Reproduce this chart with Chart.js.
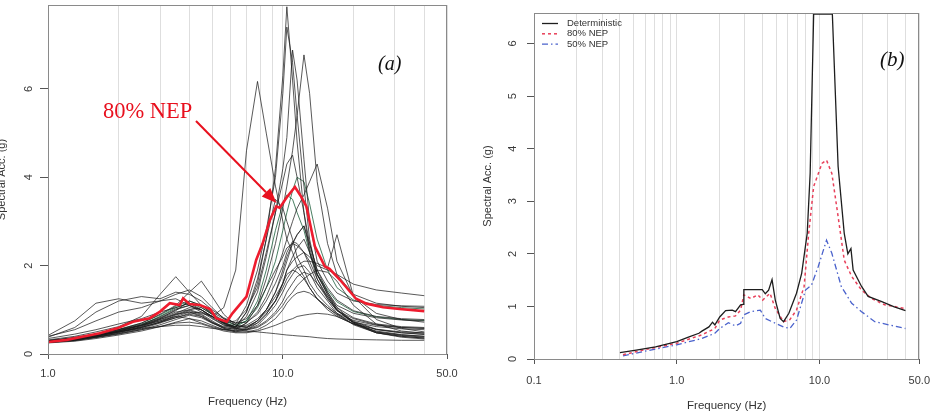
<!DOCTYPE html>
<html>
<head>
<meta charset="utf-8">
<script src="https://cdn.jsdelivr.net/npm/chart.js@4.4.1/dist/chart.umd.min.js"></script>
<style>
  html, body { margin: 0; padding: 0; background: #fff; }
  #wrap { display: flex; width: 940px; height: 414px; }
  canvas { display: block; }
</style>
</head>
<body>
<div id="wrap">
  <canvas id="chartA" width="470" height="414"></canvas>
  <canvas id="chartB" width="470" height="414"></canvas>
</div>
<script>
// ---- panel (a): individual records + 80% NEP ----
const freqA = [1, 1.3, 1.6, 2, 2.5, 3, 3.5, 4, 4.5, 5, 5.6, 6.3, 7, 7.8, 8.5, 9.3, 10, 10.4, 11, 11.5, 12.3, 13, 14, 15.5, 17, 20, 25, 32, 40];

const records = [
  [0.30,0.38,0.45,0.55,0.65, 0.75,0.85,0.80,0.70,0.62, 0.55,0.60,0.95,1.60,2.60, 4.20,6.30,7.86,6.20,4.80, 3.20,2.30,1.70,1.25,0.98, 0.80,0.66,0.60,0.58],
  [0.28,0.33,0.40,0.50,0.62, 0.78,0.90,0.95,0.85,0.70, 0.60,0.68,1.10,1.90,2.80, 4.00,5.90,7.40,6.60,5.40, 3.80,2.60,1.80,1.40,1.10, 0.92,0.82,0.77,0.75],
  [0.27,0.32,0.42,0.52,0.65, 0.80,1.00,1.10,0.95,0.80, 0.65,0.62,0.85,1.40,2.20, 3.20,4.20,4.90,6.88,6.20, 4.40,3.00,2.10,1.65,1.38, 1.20,1.12,1.09,1.08],
  [0.26,0.31,0.38,0.48,0.60, 0.72,0.88,0.98,0.90,0.75, 0.60,0.55,0.70,1.10,1.70, 2.50,3.30,3.80,4.60,5.40, 6.77,5.90,3.90,2.50,1.80, 1.35,1.15,1.08,1.05],
  [0.30,0.35,0.42,0.52,0.65, 0.80,0.95,1.00,0.92,0.85, 1.05,1.90,4.60,6.17,5.00, 3.80,3.00,2.60,2.30,2.00, 1.75,1.50,1.25,1.00,0.85, 0.68,0.56,0.50,0.48],
  [0.35,0.45,0.55,0.68,0.80, 0.95,1.05,1.15,1.00,0.85, 0.70,0.75,1.00,1.50,2.30, 3.20,3.90,4.30,4.50,4.00, 3.20,2.50,1.90,1.50,1.22, 0.98,0.85,0.80,0.78],
  [0.28,0.34,0.40,0.50,0.60, 0.72,0.82,0.90,0.85,0.72, 0.62,0.58,0.70,0.95,1.30, 1.80,2.30,2.60,3.00,3.30, 3.60,3.90,4.30,3.30,2.10, 1.30,0.92,0.78,0.72],
  [0.40,0.55,0.75,0.95,1.05, 1.20,1.35,1.45,1.30,1.05, 0.80,0.70,0.80,1.10,1.50, 1.90,2.20,2.40,2.50,2.45, 2.30,2.20,2.00,1.90,1.80, 1.58,1.45,1.38,1.32],
  [0.42,0.75,1.15,1.25,1.15, 1.20,1.25,1.10,1.00,0.85, 0.70,0.62,0.65,0.80,1.00, 1.30,1.60,1.80,1.90,1.85, 1.70,1.50,1.25,1.05,0.90, 0.72,0.62,0.57,0.55],
  [0.38,0.60,0.95,1.20,1.30, 1.25,1.40,1.35,1.20,1.00, 0.82,0.70,0.72,0.90,1.20, 1.60,2.00,2.30,2.55,2.50, 2.30,2.00,1.60,1.25,0.98, 0.72,0.55,0.48,0.45],
  [0.32,0.40,0.50,0.62,0.85, 1.35,1.75,1.40,1.10,0.95, 0.80,0.65,0.60,0.75,1.00, 1.40,1.90,2.20,2.50,2.70, 2.90,2.40,1.80,1.35,1.05, 0.82,0.68,0.62,0.60],
  [0.30,0.36,0.45,0.55,0.70, 0.90,1.10,1.40,1.65,1.30, 0.90,0.65,0.60,0.70,0.90, 1.20,1.60,1.90,2.20,2.40, 2.60,2.30,1.80,1.35,1.00, 0.70,0.50,0.43,0.40],
  [0.27,0.32,0.40,0.50,0.62, 0.75,0.90,1.00,1.05,0.90, 0.72,0.60,0.62,0.75,0.95, 1.20,1.50,1.70,1.90,2.00, 2.10,2.10,2.05,1.95,2.70, 1.30,0.78,0.58,0.50],
  [0.26,0.30,0.37,0.45,0.55, 0.66,0.78,0.88,0.82,0.70, 0.58,0.52,0.58,0.75,1.00, 1.40,1.80,2.10,2.50,2.70, 2.90,2.50,1.90,1.40,1.05, 0.72,0.50,0.42,0.38],
  [0.25,0.29,0.35,0.43,0.52, 0.62,0.72,0.80,0.75,0.65, 0.55,0.50,0.55,0.70,0.90, 1.20,1.60,1.90,2.10,2.20, 2.30,2.10,1.70,1.30,1.00, 0.74,0.56,0.48,0.44],
  [0.30,0.36,0.44,0.55,0.68, 0.82,0.98,1.20,1.10,0.90, 0.70,0.58,0.55,0.62,0.75, 0.95,1.20,1.40,1.60,1.75, 1.85,1.80,1.60,1.30,1.00, 0.70,0.48,0.40,0.36],
  [0.28,0.33,0.40,0.50,0.60, 0.72,0.85,0.95,0.88,0.72, 0.58,0.50,0.50,0.55,0.65, 0.80,1.00,1.15,1.30,1.38, 1.42,1.38,1.25,1.05,0.88, 0.68,0.52,0.44,0.40],
  [0.28,0.32,0.38,0.46,0.55, 0.62,0.70,0.72,0.68,0.60, 0.52,0.48,0.48,0.52,0.58, 0.65,0.72,0.76,0.80,0.85, 0.88,0.90,0.92,0.90,0.85, 0.68,0.48,0.38,0.34],
  [0.30,0.35,0.42,0.50,0.58, 0.62,0.65,0.65,0.62,0.58, 0.55,0.53,0.52,0.50,0.48, 0.46,0.44,0.43,0.42,0.41, 0.40,0.39,0.37,0.35,0.34, 0.33,0.32,0.31,0.31],
  [0.28,0.34,0.42,0.52,0.64, 0.78,0.92,1.05,1.00,0.85, 0.68,0.56,0.54,0.60,0.72, 0.90,1.10,1.25,1.40,1.55, 1.70,1.80,1.90,1.85,1.65, 1.10,0.68,0.52,0.47],
  [0.27,0.31,0.38,0.47,0.57, 0.70,0.82,0.92,0.95,0.85, 0.70,0.58,0.56,0.65,0.85, 1.10,1.40,1.60,1.80,1.95, 2.00,1.85,1.50,1.20,0.92, 0.66,0.48,0.40,0.36],
  [0.27,0.32,0.40,0.52,0.66, 0.85,1.05,1.15,1.05,0.90, 0.72,0.62,0.75,1.20,1.90, 2.80,3.40,3.60,3.50,3.20, 2.80,2.30,1.80,1.45,1.18, 0.96,0.84,0.78,0.76],
  [0.28,0.34,0.42,0.53,0.66, 0.84,1.02,1.10,1.00,0.82, 0.66,0.62,0.95,1.70,2.60, 3.50,3.30,3.00,2.60,2.20, 1.90,1.60,1.35,1.10,0.92, 0.76,0.65,0.60,0.58],
  [0.30,0.36,0.45,0.56,0.70, 0.88,1.08,1.20,1.10,0.92, 0.75,0.66,0.75,1.05,1.50, 2.10,2.80,3.20,3.70,4.00, 3.90,3.40,2.60,1.90,1.50, 1.22,1.10,1.05,1.02]
];

const nepFreqA = [1.0, 1.2, 1.66, 1.97, 2.3, 2.71, 3.0, 3.3, 3.64, 3.76, 4.0, 4.43, 4.9, 5.2, 5.77, 6.1, 7.0, 7.7, 8.2, 8.8, 9.37, 9.7, 10.4, 11.26, 12.0, 12.6, 13.7, 15.1, 15.8, 17.5, 20.5, 22.7, 26.7, 31.4, 40];
const nep80A = [0.27, 0.32, 0.47, 0.58, 0.73, 0.81, 0.96, 1.15, 1.11, 1.26, 1.13, 1.11, 1.02, 0.81, 0.73, 0.92, 1.30, 2.13, 2.50, 3.03, 3.34, 3.31, 3.55, 3.78, 3.55, 3.34, 2.43, 1.98, 1.93, 1.68, 1.25, 1.14, 1.06, 1.02, 0.97];

const xTicksA = [1, 2, 3, 4, 5, 6, 7, 8, 9, 10, 20, 30, 40, 50];
const xLabelsA = [1, 10, 50];
const yTicksA = [0, 2, 4, 6];

// ---- panel (b): deterministic vs probabilistic ----
const detFreq = [0.40, 0.52, 0.71, 1.0, 1.22, 1.43, 1.50, 1.68, 1.78, 1.85, 2.0, 2.2, 2.45, 2.58, 2.8, 2.92, 2.95, 3.97, 4.17, 4.4, 4.65, 4.9, 5.3, 5.6, 6.1, 6.9, 7.5, 8.2, 8.6, 9.1, 12.3, 13.5, 14.9, 15.8, 16.6, 17.2, 19.7, 21.9, 27.3, 33.4, 40];
const detAcc = [0.12, 0.17, 0.23, 0.33, 0.42, 0.49, 0.53, 0.61, 0.70, 0.65, 0.80, 0.92, 0.93, 0.90, 1.03, 1.04, 1.32, 1.32, 1.24, 1.31, 1.51, 1.12, 0.77, 0.71, 0.87, 1.25, 1.63, 2.39, 3.53, 6.56, 6.56, 3.66, 2.39, 2.0, 2.1, 1.69, 1.38, 1.19, 1.09, 0.99, 0.92];

const nep80Freq = [0.42, 0.58, 1.0, 1.5, 1.85, 2.0, 2.3, 2.58, 2.8, 2.95, 3.3, 3.7, 4.0, 4.5, 4.9, 5.6, 6.2, 6.9, 7.8, 8.4, 9.1, 10.4, 11.2, 12.2, 13.5, 14.9, 16.8, 19.7, 23.2, 28.6, 40];
const nep80Acc = [0.08, 0.17, 0.30, 0.46, 0.58, 0.74, 0.80, 0.82, 0.93, 1.22, 1.15, 1.22, 1.12, 1.25, 0.96, 0.71, 0.75, 0.93, 1.38, 2.39, 3.28, 3.72, 3.78, 3.53, 2.71, 1.88, 1.57, 1.31, 1.15, 1.03, 0.96];

const nep50Freq = [0.42, 0.58, 1.0, 1.5, 1.85, 2.0, 2.3, 2.58, 2.8, 2.95, 3.3, 3.85, 4.17, 4.9, 5.6, 6.2, 6.9, 7.98, 8.8, 9.8, 11.2, 12.2, 14.2, 16.8, 19.7, 24.4, 30.5, 40];
const nep50Acc = [0.06, 0.14, 0.27, 0.39, 0.49, 0.58, 0.69, 0.63, 0.68, 0.84, 0.90, 0.93, 0.77, 0.68, 0.61, 0.58, 0.74, 1.31, 1.41, 1.76, 2.26, 2.01, 1.38, 1.06, 0.90, 0.71, 0.65, 0.58];

const xTicksB = [0.1, 0.2, 0.3, 0.4, 0.5, 0.6, 0.7, 0.8, 0.9, 1, 2, 3, 4, 5, 6, 7, 8, 9, 10, 20, 30, 40, 50];
const xLabelsB = [0.1, 1, 10, 50];
const yTicksB = [0, 1, 2, 3, 4, 5, 6];

// styles
const SANS = 'Liberation Sans, Arial, sans-serif';
const SERIF = 'Liberation Serif, Times New Roman, serif';
const greenRecords = [21, 23];

function pts(xs, ys) {
  return xs.map((x, i) => ({x: x, y: ys[i]}));
}

function xScale(min, max, ticks, labels, h, pad, titlePad) {
  return {
    type: 'logarithmic', min: min, max: max,
    afterBuildTicks: s => { s.ticks = ticks.map(v => ({value: v})); },
    afterFit: s => { s.height = h; },
    ticks: {
      autoSkip: false, maxRotation: 0, minRotation: 0, padding: pad,
      color: '#3a3a3a', font: {family: SANS, size: 11},
      callback: v => labels.includes(v) ? v.toFixed(1) : ''
    },
    grid: {
      color: '#dedede', lineWidth: 1, tickLength: 5,
      tickColor: ctx => labels.includes(ctx.tick.value) ? '#555' : 'rgba(0,0,0,0)'
    },
    border: {display: false},
    title: {display: true, text: 'Frequency (Hz)', color: '#333', font: {family: SANS, size: 11.5}, padding: {top: 0, bottom: titlePad}}
  };
}

function yScale(max, ticks, w, titlePad, tl) {
  return {
    type: 'linear', min: 0, max: max,
    afterBuildTicks: s => { s.ticks = ticks.map(v => ({value: v})); },
    afterFit: s => { s.width = w; },
    ticks: {display: false},
    grid: {drawOnChartArea: false, drawTicks: true, tickLength: tl, tickColor: '#555', color: '#555'},
    border: {display: false},
    title: {display: true, text: 'Spectral Acc. (g)', color: '#333', font: {family: SANS, size: 11}, padding: {top: titlePad, bottom: 0}}
  };
}

const framePlugin = {
  id: 'frame',
  afterDraw(chart) {
    const {ctx, chartArea: a} = chart;
    ctx.save();
    ctx.strokeStyle = '#8a8a8a';
    ctx.lineWidth = 1;
    ctx.strokeRect(Math.round(a.left) + 0.5, Math.round(a.top) + 0.5, Math.round(a.right - a.left) - 1, Math.round(a.bottom - a.top));
    ctx.restore();
  }
};

const yLabelPlugin = {
  id: 'yLabels',
  afterDraw(chart, args, o) {
    const s = chart.scales.y, ctx = chart.ctx;
    ctx.save();
    ctx.fillStyle = '#3a3a3a';
    ctx.font = '11px ' + SANS;
    ctx.textAlign = 'center';
    ctx.textBaseline = 'middle';
    s.ticks.forEach(t => {
      ctx.save();
      ctx.translate(o.x, s.getPixelForValue(t.value));
      ctx.rotate(-Math.PI / 2);
      ctx.fillText(String(t.value), 0, 0);
      ctx.restore();
    });
    ctx.restore();
  }
};

const notesA = {
  id: 'notesA',
  afterDraw(chart) {
    const ctx = chart.ctx, xs = chart.scales.x, ys = chart.scales.y;
    ctx.save();
    ctx.fillStyle = '#111';
    ctx.font = 'italic 20px ' + SERIF;
    ctx.textBaseline = 'middle';
    ctx.fillText('(a)', 378, 65);
    ctx.fillStyle = '#e8101e';
    ctx.font = '22.5px ' + SERIF;
    ctx.fillText('80% NEP', 103, 112);
    // arrow pointing at the 80% NEP curve
    const x0 = 196, y0 = 121;
    const x1 = xs.getPixelForValue(9.4), y1 = ys.getPixelForValue(3.42);
    const ang = Math.atan2(y1 - y0, x1 - x0);
    const hl = 15, hw = 6;
    ctx.strokeStyle = '#e8101e';
    ctx.lineWidth = 2;
    ctx.beginPath();
    ctx.moveTo(x0, y0);
    ctx.lineTo(x1 - Math.cos(ang) * hl, y1 - Math.sin(ang) * hl);
    ctx.stroke();
    ctx.beginPath();
    ctx.moveTo(x1, y1);
    ctx.lineTo(x1 - Math.cos(ang) * hl - Math.sin(ang) * hw, y1 - Math.sin(ang) * hl + Math.cos(ang) * hw);
    ctx.lineTo(x1 - Math.cos(ang) * hl + Math.sin(ang) * hw, y1 - Math.sin(ang) * hl - Math.cos(ang) * hw);
    ctx.closePath();
    ctx.fill();
    ctx.restore();
  }
};

const notesB = {
  id: 'notesB',
  afterDraw(chart) {
    const ctx = chart.ctx;
    ctx.save();
    ctx.fillStyle = '#111';
    ctx.font = 'italic 21px ' + SERIF;
    ctx.textBaseline = 'middle';
    ctx.fillText('(b)', 410, 60);
    // legend
    ctx.font = '9.5px ' + SANS;
    chart.data.datasets.forEach((d, i) => {
      const y = 23.5 + i * 10.3;
      ctx.strokeStyle = d.borderColor;
      ctx.lineWidth = d.borderWidth;
      ctx.setLineDash(d.borderDash || []);
      ctx.beginPath();
      ctx.moveTo(72, y);
      ctx.lineTo(88, y);
      ctx.stroke();
      ctx.setLineDash([]);
      ctx.fillStyle = '#333';
      ctx.fillText(d.label, 97, y);
    });
    ctx.restore();
  }
};

const common = {
  responsive: false,
  animation: false,
  events: [],
  elements: {point: {radius: 0}, line: {tension: 0}},
};

// panel (a)
const dsA = [{
  label: '80% NEP', data: pts(nepFreqA, nep80A),
  borderColor: '#ee1c2e', borderWidth: 2.6
}];
records.forEach((r, i) => {
  dsA.push({
    label: 'record ' + (i + 1), data: pts(freqA, r),
    borderColor: greenRecords.includes(i) ? 'rgba(30,95,60,0.8)' : 'rgba(25,25,25,0.72)',
    borderWidth: 1
  });
});

new Chart(document.getElementById('chartA'), {
  type: 'line',
  data: {datasets: dsA},
  options: Object.assign({}, common, {
    layout: {padding: {left: 0, top: 5, right: 23, bottom: 0}},
    scales: {
      x: xScale(1, 50, xTicksA, xLabelsA, 60, 8, 5),
      y: yScale(7.9, yTicksA, 48, -5, 8)
    },
    plugins: {legend: {display: false}, tooltip: {enabled: false}, yLabels: {x: 29}}
  }),
  plugins: [framePlugin, yLabelPlugin, notesA]
});

// panel (b)
new Chart(document.getElementById('chartB'), {
  type: 'line',
  data: {datasets: [
    {label: 'Deterministic', data: pts(detFreq, detAcc), borderColor: '#1e1e1e', borderWidth: 1.3},
    {label: '80% NEP', data: pts(nep80Freq, nep80Acc), borderColor: '#e8405a', borderWidth: 1.5, borderDash: [3, 3]},
    {label: '50% NEP', data: pts(nep50Freq, nep50Acc), borderColor: '#4a62cc', borderWidth: 1.3, borderDash: [6, 3, 1.5, 3]}
  ]},
  options: Object.assign({}, common, {
    layout: {padding: {left: 0, top: 13, right: 19, bottom: 0}},
    scales: {
      x: xScale(0.1, 50, xTicksB, xLabelsB, 55, 10, 1),
      y: yScale(6.58, yTicksB, 64, 11.4, 7)
    },
    plugins: {legend: {display: false}, tooltip: {enabled: false}, yLabels: {x: 43}}
  }),
  plugins: [framePlugin, yLabelPlugin, notesB]
});
</script>
</body>
</html>
